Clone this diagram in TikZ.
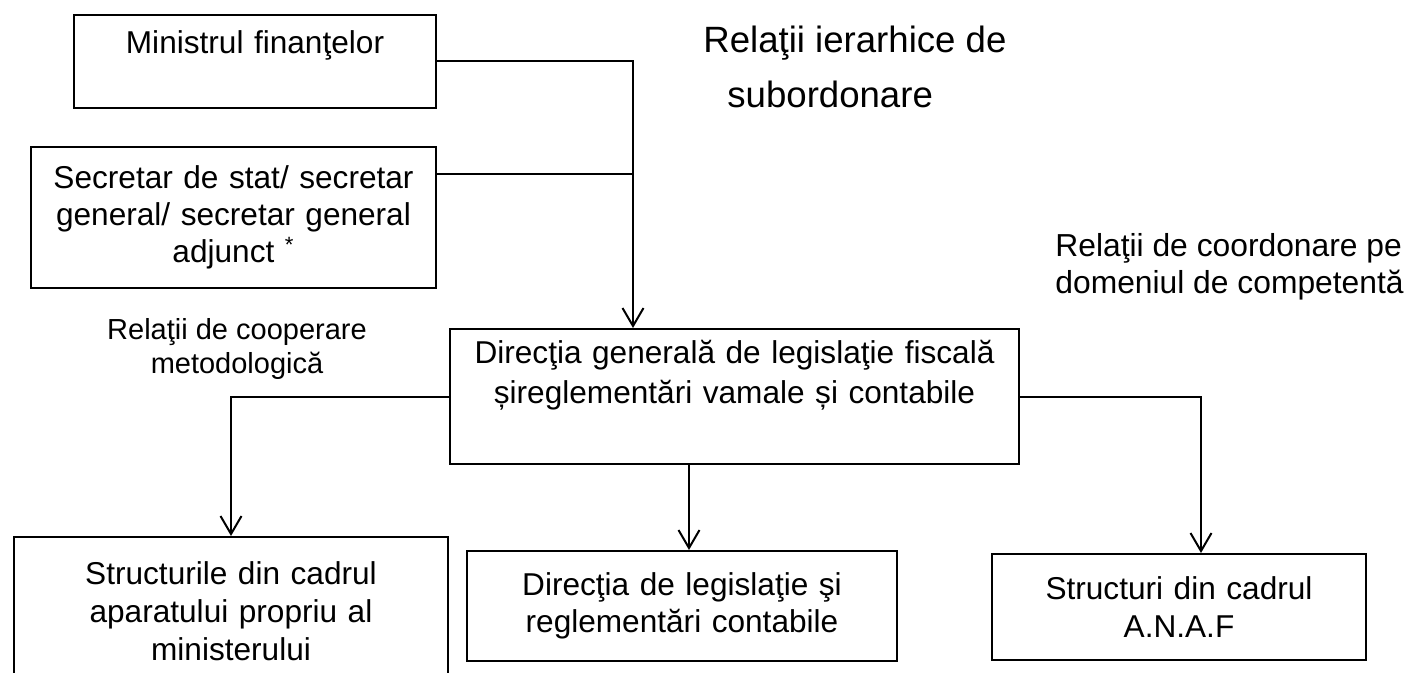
\documentclass[tikz,border=0pt]{standalone}
\usepackage{fontspec}
\setmainfont{Liberation Sans}
\usepackage{tikz}
\usetikzlibrary{arrows.meta}

\begin{document}
\begin{tikzpicture}[x=0.5pt, y=-0.5pt,
		box/.style={draw, line width=1pt, inner sep=0pt, anchor=north west, align=center, font=\fontsize{15.8}{18.6}\selectfont},
		lbl/.style={inner sep=0pt, anchor=north west, align=left},
		link/.style={line width=1pt},
		arr/.style={link, -{Straight Barb[length=9pt, width=10.5pt]}}
		]
	\useasboundingbox (0,0) rectangle (1407,673);
	
	\node[box, text width=181pt, text height=19.5pt, text depth=27pt] (min) at (73,14) {Ministrul finanţelor};
	\node[box, text width=202.5pt, minimum height=70.5pt] (sec) at (30,146) {Secretar de stat/ secretar\\ general/ secretar general\\ adjunct \textsuperscript{*}};
	\node[box, text width=284.5pt, text height=17.5pt, text depth=50pt, font=\fontsize{15.8}{20}\selectfont] (dg) at (449,328) {Direcţia generală de legislaţie fiscală\\ șireglementări vamale și contabile};
	\node[box, text width=217pt, minimum height=74pt, font=\fontsize{15.8}{19}\selectfont] (str) at (13,536) {Structurile din cadrul\\ aparatului propriu al\\ ministerului};
	\node[box, text width=215pt, minimum height=55pt] (dir) at (466,550) {Direcţia de legislaţie şi\\ reglementări contabile};
	\node[box, text width=187pt, minimum height=53pt] (anaf) at (991,553) {Structuri din cadrul\\ A.N.A.F};
	
	\node[lbl, font=\fontsize{18.3}{27.5}\selectfont] (ierarhic) at (703,26) {Relaţii ierarhice de\\ \hspace*{12pt}subordonare};
	\node[lbl, align=center, anchor=north, font=\fontsize{14.5}{17}\selectfont] (cooperare) at (237,318) {Relaţii de cooperare\\ metodologică};
	\node[lbl, font=\fontsize{15.9}{18.5}\selectfont] (coordonare) at (1055,233) {Relaţii de coordonare pe\\ domeniul de competentă};
	
	\coordinate (bus) at (633,0);
	\draw[arr] (min) -| (bus |- dg.north);
	\draw[link] ([yshift=21.75pt]sec.east) -- ([yshift=21.75pt]sec.east -| bus);
	\draw[arr] (dg) -| (str);
	\draw[arr] ([xshift=3.5pt]dir.north |- dg.south) -- ([xshift=3.5pt]dir.north);
	\draw[arr] (dg) -| ([xshift=11pt]anaf.north);
\end{tikzpicture}
\end{document}
